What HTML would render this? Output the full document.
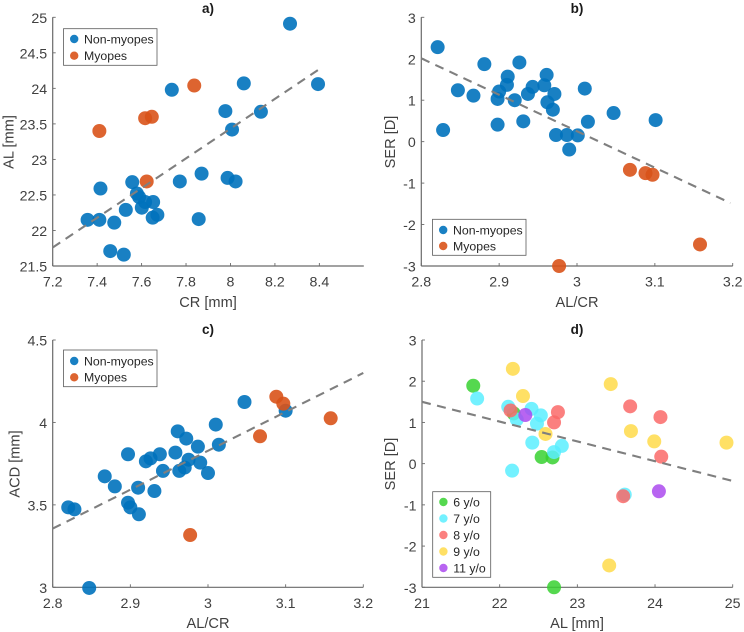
<!DOCTYPE html>
<html lang="en">
<head>
<meta charset="utf-8">
<title>Ocular biometry scatter plots</title>
<style>
html,body{margin:0;padding:0;background:#fff;width:744px;height:632px;overflow:hidden}
svg{display:block;filter:blur(0.35px)}
text{font-family:"Liberation Sans",Arial,sans-serif;fill:#404040}
.tick{font-size:14.2px}
.label{font-size:14.6px}
.title{font-size:13.5px;font-weight:bold;fill:#1a1a1a}
.legend-text{font-size:12.3px;fill:#262626}
</style>
</head>
<body>
<svg id="figure" width="744" height="632" viewBox="0 0 744 632" xmlns="http://www.w3.org/2000/svg">
  <text class="title" x="208" y="13" text-anchor="middle">a)</text>
  <text class="title" x="577" y="13" text-anchor="middle">b)</text>
  <text class="title" x="208" y="334" text-anchor="middle">c)</text>
  <text class="title" x="577" y="334" text-anchor="middle">d)</text>
  <text class="label" x="208" y="307" text-anchor="middle">CR [mm]</text>
  <text class="label" x="577" y="307" text-anchor="middle">AL/CR</text>
  <text class="label" x="208" y="628" text-anchor="middle">AL/CR</text>
  <text class="label" x="577" y="628" text-anchor="middle">AL [mm]</text>
  <text class="label" transform="translate(13.5,142) rotate(-90)" text-anchor="middle">AL [mm]</text>
  <text class="label" transform="translate(395,142) rotate(-90)" text-anchor="middle">SER [D]</text>
  <text class="label" transform="translate(19.5,464) rotate(-90)" text-anchor="middle">ACD [mm]</text>
  <text class="label" transform="translate(395,464) rotate(-90)" text-anchor="middle">SER [D]</text>
</svg>
<script>
// Panel a: CR vs AL
const aNonX = [8.268,8.06,8.394,7.736,7.977,8.137,8.007,7.87,7.987,8.023,7.772,7.558,7.415,7.579,7.589,7.616,7.652,7.601,7.529,7.671,7.65,7.857,7.357,7.41,7.477,7.459,7.52];
const aNonY = [24.91,24.07,24.06,23.98,23.68,23.67,23.42,22.8,22.74,22.69,22.69,22.68,22.59,22.52,22.47,22.4,22.4,22.32,22.29,22.22,22.18,22.16,22.15,22.15,22.11,21.71,21.66];
const aMyoX = [7.41,7.616,7.646,7.837,7.623];
const aMyoY = [23.4,23.58,23.6,24.04,22.69];
const aFitX = [7.2,8.4];
const aFitY = [21.76,24.27];
const aXTicks = ["7.2","7.4","7.6","7.8","8","8.2","8.4"];
const aYTicks = ["21.5","22","22.5","23","23.5","24","24.5","25"];

// Panel b: AL/CR vs SER
const bNonX = [2.821,2.847,2.867,2.881,2.828,2.898,2.898,2.9,2.91,2.911,2.92,2.926,2.931,2.937,2.943,2.958,2.961,2.962,2.971,2.969,2.973,2.987,2.99,3.001,3.01,3.014,3.047,3.101];
const bNonY = [2.28,1.24,1.11,1.87,0.28,0.41,1.03,1.21,1.37,1.57,1,1.91,0.49,1.15,1.32,1.36,1.61,0.95,1.15,0.77,0.16,0.16,-0.19,0.15,1.28,0.48,0.69,0.52];
const bMyoX = [3.068,3.088,3.097,3.158,2.977];
const bMyoY = [-0.68,-0.76,-0.8,-2.48,-3];
const bFitX = [2.8,3.197];
const bFitY = [2.01,-1.48];
const bXTicks = ["2.8","2.9","3","3.1","3.2"];
const bYTicks = ["-3","-2","-1","0","1","2","3"];

// Panel c: AL/CR vs ACD
const cNonX = [2.82,2.828,2.847,2.867,2.88,2.897,2.897,2.9,2.91,2.911,2.92,2.926,2.931,2.938,2.942,2.958,2.961,2.963,2.97,2.972,2.975,2.987,2.99,3,3.01,3.014,3.047,3.1];
const cNonY = [3.485,3.473,2.996,3.673,3.612,3.807,3.513,3.485,3.604,3.443,3.764,3.782,3.584,3.807,3.706,3.817,3.946,3.706,3.726,3.902,3.774,3.853,3.756,3.693,3.987,3.865,4.124,4.071];
const cMyoX = [2.977,3.067,3.088,3.097,3.158];
const cMyoY = [3.317,3.916,4.156,4.114,4.025];
const cFitX = [2.8,3.2];
const cFitY = [3.356,4.3];
const cXTicks = ["2.8","2.9","3","3.1","3.2"];
const cYTicks = ["3","3.5","4","4.5"];

// Panel d: AL vs SER by age
const age6X = [21.66,22.18,22.54,22.68,22.7];
const age6Y = [1.89,1.22,0.16,0.15,-3];
const age7X = [21.71,22.11,22.22,22.41,22.53,22.48,22.42,22.8,22.7,22.16,23.61];
const age7Y = [1.58,1.38,1.07,1.33,1.17,0.97,0.51,0.43,0.28,-0.17,-0.75];
const age8X = [22.14,22.75,22.7,23.68,24.07,24.08,23.59];
const age8Y = [1.29,1.25,1,1.39,1.13,0.17,-0.79];
const age9X = [22.17,22.3,22.59,23.43,23.69,23.99,24.92,23.41];
const age9Y = [2.3,1.64,0.72,1.93,0.79,0.54,0.51,-2.47];
const age11X = [22.33,24.05];
const age11Y = [1.18,-0.67];
const dFitX = [21,25];
const dFitY = [1.5,-0.42];
const dXTicks = ["21","22","23","24","25"];
const dYTicks = ["-3","-2","-1","0","1","2","3"];

const SVGNS = "http://www.w3.org/2000/svg";
const figure = document.getElementById("figure");

function add(parent, tag, attrs, txt) {
  const el = document.createElementNS(SVGNS, tag);
  for (const k in attrs) el.setAttribute(k, attrs[k]);
  if (txt !== undefined) el.textContent = txt;
  parent.appendChild(el);
  return el;
}

function drawAxes(id, box, xTicks, yTicks, sx, sy) {
  const g = add(figure, "g", {});
  
  
  const axisStyle = {stroke: "#6a6a6a", "stroke-width": 1.2, fill: "none"};
  const tickStyle = {stroke: "#6a6a6a", "stroke-width": 0.9, fill: "none"};
  const xAxis = add(g, "line", Object.assign({x1: box.l, x2: box.r, y1: box.b, y2: box.b}, axisStyle));
  
  
  const yAxis = add(g, "line", Object.assign({x1: box.l, x2: box.l, y1: box.t, y2: box.b}, axisStyle));
  
  
  xTicks.forEach(function (t) {
    const x = sx(parseFloat(t));
    add(g, "line", Object.assign({x1: x, x2: x, y1: box.b, y2: box.b - 3}, tickStyle));
    const label = add(g, "text", {class: "tick", x: x, y: box.b + 20.5, "text-anchor": "middle"}, t);
    
    
  });
  yTicks.forEach(function (t) {
    const y = sy(parseFloat(t));
    add(g, "line", Object.assign({x1: box.l, x2: box.l + 3, y1: y, y2: y}, tickStyle));
    const label = add(g, "text", {class: "tick", x: box.l - 5.5, y: y + 5.5, "text-anchor": "end"}, t);
    
    
  });
}

function drawPoints(id, series, xs, ys, color, opacity, sx, sy) {
  const g = add(figure, "g", {});
  
  
  xs.forEach(function (v, i) {
    const c = add(g, "circle", {cx: sx(v), cy: sy(ys[i]), r: 7, fill: color, "fill-opacity": opacity});
    
    
  });
}

function drawFit(id, xs, ys, sx, sy) {
  const l = add(figure, "line", {x1: sx(xs[0]), y1: sy(ys[0]), x2: sx(xs[1]), y2: sy(ys[1]),
    stroke: "#7f7f7f", "stroke-width": 2.1, "stroke-dasharray": "9 6.5", fill: "none"});
  
  
}

function drawLegend(id, box, entries) {
  const g = add(figure, "g", {});
  
  
  add(g, "rect", {x: box.x, y: box.y, width: box.w, height: box.h, fill: "#fff", stroke: "#5a5a5a", "stroke-width": 0.8});
  entries.forEach(function (e, i) {
    const y = box.first + i * box.step;
    const m = add(g, "circle", {cx: box.x + 10.7, cy: y, r: 4.2, fill: e[1], "fill-opacity": e[2]});
    
    
    const t = add(g, "text", {class: "legend-text", x: box.x + 20.5, y: y + 4.4}, e[0]);
    
    
  });
}

function scale(d0, d1, r0, r1) {
  return function (v) { return r0 + (v - d0) * (r1 - r0) / (d1 - d0); };
}

const BLUE = "#0072BD", ORANGE = "#D95319";
const groupEntries = [["Non-myopes", BLUE, 0.9], ["Myopes", ORANGE, 0.9]];

function drawGroupPanel(id, box, xDom, yDom, xTicks, yTicks, nonX, nonY, myoX, myoY, fitX, fitY, legendBox) {
  const sx = scale(xDom[0], xDom[1], box.l, box.r);
  const sy = scale(yDom[0], yDom[1], box.b, box.t);
  drawAxes(id, box, xTicks, yTicks, sx, sy);
  drawPoints(id, "non-myopes", nonX, nonY, BLUE, 0.9, sx, sy);
  drawPoints(id, "myopes", myoX, myoY, ORANGE, 0.9, sx, sy);
  drawFit(id, fitX, fitY, sx, sy);
  drawLegend(id, legendBox, groupEntries);
}

drawGroupPanel("panel-a", {l: 52.7, r: 363.8, t: 17.3, b: 266}, [7.2, 8.6], [21.5, 25], aXTicks, aYTicks,
  aNonX, aNonY, aMyoX, aMyoY, aFitX, aFitY, {x: 63.5, y: 28.7, w: 93.5, h: 36.6, first: 39, step: 16.7});

drawGroupPanel("panel-b", {l: 421.3, r: 732.7, t: 17.3, b: 266}, [2.8, 3.2], [-3, 3], bXTicks, bYTicks,
  bNonX, bNonY, bMyoX, bMyoY, bFitX, bFitY, {x: 432.5, y: 219.3, w: 93.5, h: 36, first: 230, step: 16});

drawGroupPanel("panel-c", {l: 52.7, r: 363.3, t: 340, b: 587.3}, [2.8, 3.2], [3, 4.5], cXTicks, cYTicks,
  cNonX, cNonY, cMyoX, cMyoY, cFitX, cFitY, {x: 63.5, y: 350, w: 93.5, h: 36.7, first: 361, step: 16.3});

(function () {
  const id = "panel-d";
  const box = {l: 422, r: 732.7, t: 340, b: 587.3};
  const sx = scale(21, 25, box.l, box.r);
  const sy = scale(-3, 3, box.b, box.t);
  const colors = ["#37d130", "#5beeff", "#fa6a68", "#ffda4a", "#ac4aee"];
  drawAxes(id, box, dXTicks, dYTicks, sx, sy);
  drawPoints(id, "age-6", age6X, age6Y, colors[0], 0.85, sx, sy);
  drawPoints(id, "age-7", age7X, age7Y, colors[1], 0.85, sx, sy);
  drawPoints(id, "age-8", age8X, age8Y, colors[2], 0.85, sx, sy);
  drawPoints(id, "age-9", age9X, age9Y, colors[3], 0.85, sx, sy);
  drawPoints(id, "age-11", age11X, age11Y, colors[4], 0.85, sx, sy);
  drawFit(id, dFitX, dFitY, sx, sy);
  drawLegend(id, {x: 432.7, y: 491.7, w: 58, h: 85.6, first: 502, step: 16.5}, [
    ["6 y/o", colors[0], 0.85],
    ["7 y/o", colors[1], 0.85],
    ["8 y/o", colors[2], 0.85],
    ["9 y/o", colors[3], 0.85],
    ["11 y/o", colors[4], 0.85]
  ]);
})();
</script>
</body>
</html>
